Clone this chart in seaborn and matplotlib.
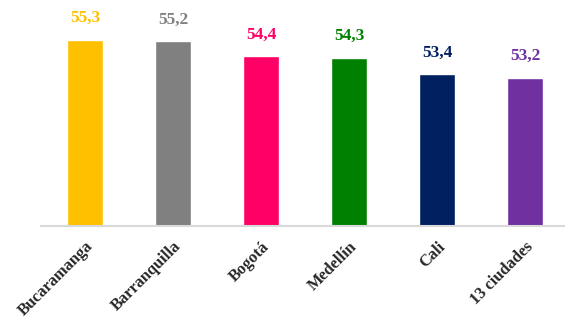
import matplotlib
matplotlib.use("Agg")
import matplotlib.pyplot as plt
import seaborn as sns
import pandas as pd

ciudades = ["Bucaramanga", "Barranquilla", "Bogotá", "Medellín", "Cali", "13 ciudades"]
valores  = [55.3, 55.2, 54.4, 54.3, 53.4, 53.2]
colores  = ["#FFC000", "#808080", "#FF0066", "#008000", "#002060", "#7030A0"]

df = pd.DataFrame({"ciudad": ciudades, "valor": valores})

sns.set_style("white")
plt.rcParams["font.family"] = ["Liberation Serif", "DejaVu Serif"]

fig = plt.figure(figsize=(5.65, 3.18), dpi=100)
ax = fig.add_axes([0.073, 0.289, 0.927, 0.683])

sns.barplot(data=df, x="ciudad", y="valor", hue="ciudad", palette=colores,
            width=0.41, legend=False, ax=ax, saturation=1)

ax.set_ylim(45, 57)
ax.set_xlim(-0.5, 5.45)
for i, (v, c) in enumerate(zip(valores, colores)):
    ax.text(i, v + 0.75, f"{v:.1f}".replace(".", ","), ha="center", va="bottom",
            color=c, fontsize=12.5, fontweight="bold")

ax.set_xlabel(""); ax.set_ylabel("")
ax.set_yticks([])
ax.tick_params(axis="x", length=0, pad=9)
ax.set_xticks(range(len(ciudades)))
ax.set_xticklabels(ciudades, rotation=45, ha="right", rotation_mode="anchor",
                   fontsize=11.8, fontweight="bold")
for s in ["top", "right", "left"]:
    ax.spines[s].set_visible(False)
ax.spines["bottom"].set_color("#D9D9D9")
ax.spines["bottom"].set_linewidth(1.5)

fig.savefig("out.png", dpi=100)
